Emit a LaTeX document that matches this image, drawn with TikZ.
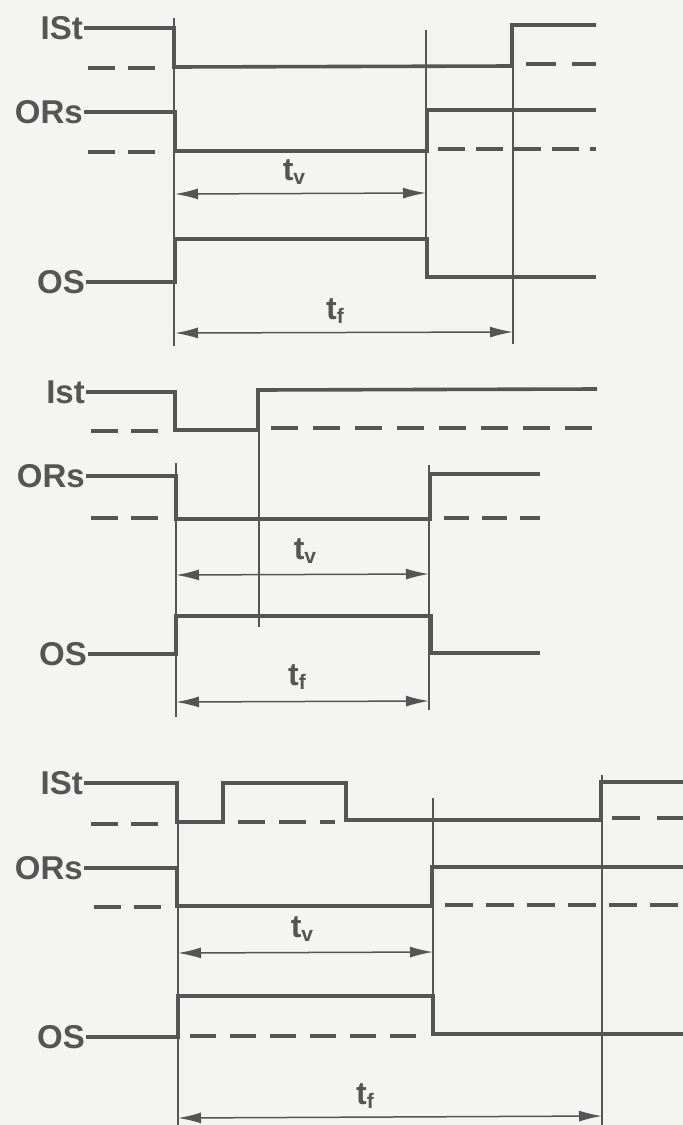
\documentclass[tikz,border=0pt]{standalone}
\usepackage{fontspec}
\setmainfont{Liberation Sans}
\usetikzlibrary{arrows.meta}
\definecolor{ink}{HTML}{555555}
\definecolor{paper}{HTML}{F4F4F2}
\newcommand{\tsub}[2]{#1\raisebox{-0.28ex}{\fontsize{21}{21}\selectfont #2}}
\tikzset{
  sig/.style={draw=ink, line width=3.6pt, line join=miter},
  lvl/.style={draw=ink, line width=3.2pt, dash pattern=on 27pt off 13pt},
  guide/.style={draw=ink, line width=1.5pt},
  span/.style={draw=ink, line width=1.5pt, {Latex[length=23pt,width=11pt]}-{Latex[length=23pt,width=11pt]}},
  lbl/.style={text=ink, anchor=east, inner sep=1pt, font=\bfseries\fontsize{33}{38}\selectfont},
  tlbl/.style={text=ink, inner sep=0pt, font=\bfseries\fontsize{32}{36}\selectfont}
}
\begin{document}
\begin{tikzpicture}[x=1pt, y=-1pt]
    \fill[paper] (0,0) rectangle (683,1125);
    \useasboundingbox (0,0) rectangle (683,1125);
    % first case
    \node[lbl] (istA) at (84,28) {ISt};
    \node[lbl] (orsA) at (84,112) {ORs};
    \node[lbl] (osA) at (86,282) {OS};
    \draw[guide] (174,18) -- (174,346);
    \draw[guide] (426,30) -- (426,278);
    \draw[guide] (513,23) -- (513,344);
    \draw[sig] (istA.east) -- (174,28) -- (174,67) -- (512,66) -- (512,25) -- (596,25);
    \draw[lvl] (88,68) -- (156,68);
    \draw[lvl, dash pattern=on 30pt off 16pt] (526,64) -- (596,64);
    \draw[sig] (orsA.east) -- (175,112) -- (175,151) -- (427,151) -- (427,110) -- (596,110);
    \draw[lvl] (88,152) -- (156,152);
    \draw[lvl, dash pattern=on 27pt off 11pt] (438,149) -- (596,149);
    \draw[sig] (osA.east) -- (175,282) -- (175,239) -- (427,239) -- (427,277) -- (596,277);
    \draw[span] (175,194) -- (426,193);
    \node[tlbl] (tvA) at (294,172) {\tsub{t}{v}};
    \draw[span] (175,333) -- (513,332);
    \node[tlbl] (tfA) at (335,311) {\tsub{t}{f}};
    % second case
    \node[lbl] (istB) at (86,392) {Ist};
    \node[lbl] (orsB) at (86,476) {ORs};
    \node[lbl] (osB) at (88,654) {OS};
    \draw[guide] (259,430) -- (259,627);
    \draw[guide] (176,463) -- (176,717);
    \draw[guide] (429,465) -- (429,710);
    \draw[sig] (istB.east) -- (175,392) -- (175,430) -- (258,430) -- (258,390) -- (597,389);
    \draw[lvl] (91,431) -- (160,431);
    \draw[lvl, dash pattern=on 27pt off 15pt] (271,428) -- (597,428);
    \draw[sig] (orsB.east) -- (176,476) -- (176,519) -- (430,519) -- (430,474) -- (540,474);
    \draw[lvl] (91,518) -- (160,518);
    \draw[lvl, dash pattern=on 25pt off 13pt] (444,518) -- (540,518);
    \draw[sig] (osB.east) -- (176,654) -- (176,616) -- (431,616) -- (431,653) -- (540,653);
    \draw[span] (176,575) -- (429,574);
    \node[tlbl] (tvB) at (305,551) {\tsub{t}{v}};
    \draw[span] (176,702) -- (429,701);
    \node[tlbl] (tfB) at (297,677) {\tsub{t}{f}};
    % third case
    \node[lbl] (istC) at (84,783) {ISt};
    \node[lbl] (orsC) at (84,868) {ORs};
    \node[lbl] (osC) at (86,1037) {OS};
    \draw[guide] (178,783) -- (178,1125);
    \draw[guide] (433,798) -- (433,1035);
    \draw[guide] (602,775) -- (602,1125);
    \draw[sig] (istC.east) -- (177,783) -- (177,822) -- (223,822) -- (223,783) -- (346,783)
        -- (346,820) -- (601,820) -- (601,782) -- (683,782);
    \draw[lvl] (91,824) -- (163,824);
    \draw[lvl, dash pattern=on 27pt off 14pt] (238,822) -- (335,822);
    \draw[lvl, dash pattern=on 28pt off 17pt] (612,818) -- (683,818);
    \draw[sig] (orsC.east) -- (177,868) -- (177,906) -- (432,906) -- (432,867) -- (683,867);
    \draw[lvl] (94,907) -- (163,907);
    \draw[lvl, dash pattern=on 28pt off 13pt] (445,905) -- (683,905);
    \draw[sig] (osC.east) -- (178,1037) -- (178,996) -- (433,996) -- (433,1034) -- (683,1034);
    \draw[lvl, dash pattern=on 26pt off 14pt] (190,1036) -- (420,1036);
    \draw[span] (178,953) -- (433,952);
    \node[tlbl] (tvC) at (302,929) {\tsub{t}{v}};
    \draw[span] (178,1118) -- (602,1116);
    \node[tlbl] (tfC) at (365,1096) {\tsub{t}{f}};
\end{tikzpicture}
\end{document}
